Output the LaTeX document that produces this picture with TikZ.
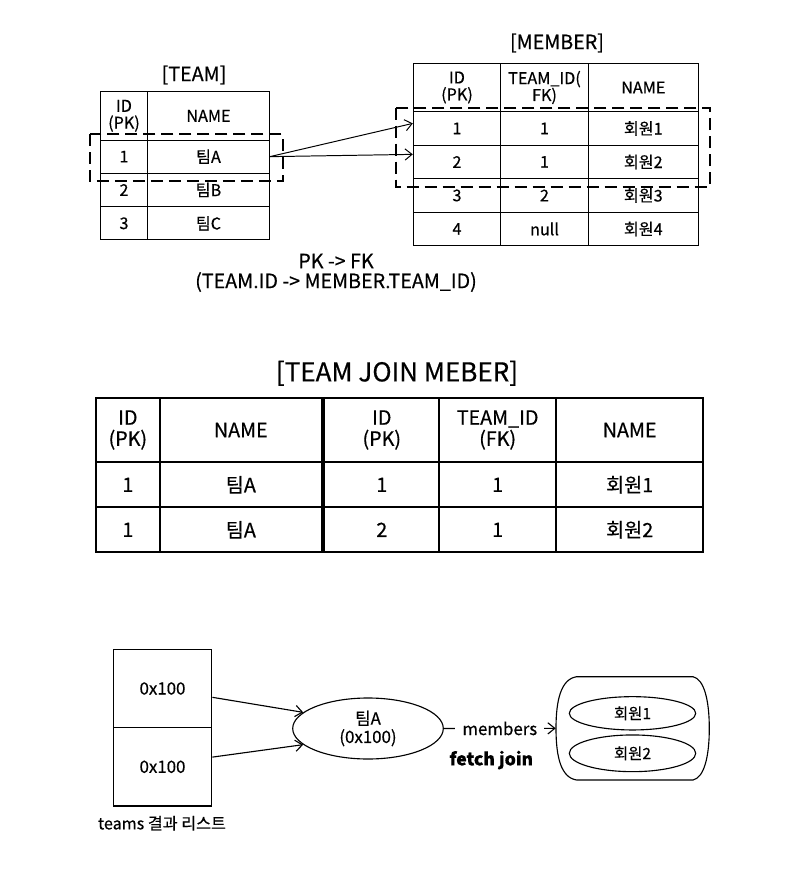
\documentclass[tikz,border=0pt]{standalone}
\usepackage{fontspec}
\setmainfont{Noto Sans CJK KR}[FakeBold=0.5]
\usepackage{tikz}
\usetikzlibrary{arrows,%
                arrows.meta,%
                shapes}
\newcommand{\upx}{0.025cm}

\begin{document}
\begin{tikzpicture}[x=0.025cm,y=-0.025cm,>={Straight Barb[length=5pt,width=8pt]}]
  \tikzstyle{CellStyle}=[draw,rectangle,inner sep=0pt,align=center,line width=0.7pt,font=\fontsize{11.5}{12}\selectfont]
  \tikzstyle{JoinStyle}=[draw,rectangle,inner sep=0pt,align=center,line width=1.4pt,font=\fontsize{14}{15}\selectfont]
  \tikzstyle{DashStyle}=[line width=1.6pt,dash pattern=on 8.5pt off 4.3pt]
  \tikzstyle{TitleStyle}=[font=\fontsize{14}{16}\selectfont]
  \tikzstyle{TCol1}=[minimum width=47.7*\upx]
  \tikzstyle{TCol2}=[minimum width=121.6*\upx]
  \tikzstyle{THead}=[minimum height=48.3*\upx]
  \tikzstyle{TRow}=[minimum height=33.3*\upx]
  \tikzstyle{MCol1}=[minimum width=87.4*\upx]
  \tikzstyle{MCol2}=[minimum width=87.6*\upx]
  \tikzstyle{MCol3}=[minimum width=110*\upx]
  \tikzstyle{MHead}=[minimum height=48.4*\upx]
  \tikzstyle{MRow}=[minimum height=33.5*\upx]
  \useasboundingbox (0,0) rectangle (794,870);
  % [TEAM]
  \node[TitleStyle] (TeamLabel) at (194,75) {[TEAM]};
  \node[CellStyle,TCol1,THead] (TId0) at (124,115.85) {ID\\(PK)};
  \node[CellStyle,TCol2,THead] (TName0) at (208.5,115.85) {NAME};
  \node[CellStyle,TCol1,TRow] (TId1) at (124,156.65) {1};
  \node[CellStyle,TCol2,TRow] (TName1) at (208.5,156.65) {팀A};
  \node[CellStyle,TCol1,TRow] (TId2) at (124,189.95) {2};
  \node[CellStyle,TCol2,TRow] (TName2) at (208.5,189.95) {팀B};
  \node[CellStyle,TCol1,TRow] (TId3) at (124,223.3) {3};
  \node[CellStyle,TCol2,TRow] (TName3) at (208.5,223.3) {팀C};
  % [MEMBER]
  \node[TitleStyle] (MemberLabel) at (557,43) {[MEMBER]};
  \node[CellStyle,MCol1,MHead] (MId0) at (457,87.5) {ID\\(PK)};
  \node[CellStyle,MCol2,MHead] (MTeam0) at (544.5,87.5) {TEAM\_ID(\\FK)};
  \node[CellStyle,MCol3,MHead] (MName0) at (643.3,87.5) {NAME};
  \node[CellStyle,MCol1,MRow] (MId1) at (457,128.45) {1};
  \node[CellStyle,MCol2,MRow] (MTeam1) at (544.5,128.45) {1};
  \node[CellStyle,MCol3,MRow] (MName1) at (643.3,128.45) {회원1};
  \node[CellStyle,MCol1,MRow] (MId2) at (457,161.95) {2};
  \node[CellStyle,MCol2,MRow] (MTeam2) at (544.5,161.95) {1};
  \node[CellStyle,MCol3,MRow] (MName2) at (643.3,161.95) {회원2};
  \node[CellStyle,MCol1,MRow] (MId3) at (457,195.45) {3};
  \node[CellStyle,MCol2,MRow] (MTeam3) at (544.5,195.45) {2};
  \node[CellStyle,MCol3,MRow] (MName3) at (643.3,195.45) {회원3};
  \node[CellStyle,MCol1,MRow] (MId4) at (457,228.95) {4};
  \node[CellStyle,MCol2,MRow] (MTeam4) at (544.5,228.95) {null};
  \node[CellStyle,MCol3,MRow] (MName4) at (643.3,228.95) {회원4};
  % selected rows
  \draw[DashStyle] (90,134) rectangle (282.7,181);
  \draw[DashStyle] (395.7,107.7) rectangle (710,186.7);
  \draw[->,line width=0.7pt] (TName1.east) -- ([yshift=3.6pt]MId1.west);
  \draw[->,line width=0.7pt] (TName1.east) -- ([yshift=5.4pt]MId2.west);
  \node[TitleStyle] (PkFk) at (336,261) {PK -> FK};
  \node[TitleStyle] (PkFkCols) at (336,282) {(TEAM.ID -> MEMBER.TEAM\_ID)};
  % [TEAM JOIN MEBER]
  \tikzstyle{JCol1}=[minimum width=64.3*\upx]
  \tikzstyle{JCol2}=[minimum width=161.7*\upx]
  \tikzstyle{JCol3}=[minimum width=115*\upx]
  \tikzstyle{JCol4}=[minimum width=116.7*\upx]
  \tikzstyle{JCol5}=[minimum width=147.3*\upx]
  \tikzstyle{JHead}=[minimum height=64.6*\upx]
  \tikzstyle{JRow}=[minimum height=45*\upx]
  \node[font=\fontsize{18.5}{20}\selectfont] (JoinLabel) at (397,373.3) {[TEAM JOIN MEBER]};
  \node[JoinStyle,JCol1,JHead] (JTId0) at (127.85,430) {ID\\(PK)};
  \node[JoinStyle,JCol2,JHead] (JTName0) at (240.85,430) {NAME};
  \node[JoinStyle,JCol3,JHead] (JMId0) at (381.8,430) {ID\\(PK)};
  \node[JoinStyle,JCol4,JHead] (JMTeam0) at (497.65,430) {TEAM\_ID\\(FK)};
  \node[JoinStyle,JCol5,JHead] (JMName0) at (629.65,430) {NAME};
  \node[JoinStyle,JCol1,JRow] (JTId1) at (127.85,484.8) {1};
  \node[JoinStyle,JCol2,JRow] (JTName1) at (240.85,484.8) {팀A};
  \node[JoinStyle,JCol3,JRow] (JMId1) at (381.8,484.8) {1};
  \node[JoinStyle,JCol4,JRow] (JMTeam1) at (497.65,484.8) {1};
  \node[JoinStyle,JCol5,JRow] (JMName1) at (629.65,484.8) {회원1};
  \node[JoinStyle,JCol1,JRow] (JTId2) at (127.85,529.8) {1};
  \node[JoinStyle,JCol2,JRow] (JTName2) at (240.85,529.8) {팀A};
  \node[JoinStyle,JCol3,JRow] (JMId2) at (381.8,529.8) {2};
  \node[JoinStyle,JCol4,JRow] (JMTeam2) at (497.65,529.8) {1};
  \node[JoinStyle,JCol5,JRow] (JMName2) at (629.65,529.8) {회원2};
  % result list -> entity
  \tikzstyle{ListStyle}=[draw,rectangle,inner sep=0pt,line width=1pt,minimum width=98.4*\upx,minimum height=78.35*\upx,font=\fontsize{12}{14}\selectfont]
  \tikzstyle{EntityStyle}=[draw,ellipse,inner sep=0pt,align=center,line width=0.8pt,font=\fontsize{12}{13}\selectfont]
  \node[ListStyle] (L1) at (162.5,688.5) {0x100};
  \node[ListStyle] (L2) at (162.5,766.8) {0x100};
  \node[font=\fontsize{11.5}{13}\selectfont] (ListLabel) at (162,823.3) {teams 결과 리스트};
  \node[EntityStyle,minimum width=150.6*\upx,minimum height=61*\upx] (TeamA) at (368,728.5) {팀A\\(0x100)};
  \draw[->,line width=0.8pt] (L1.-10) -- (TeamA.166);
  \draw[->,line width=0.8pt] (L2.11) -- (TeamA.194);
  \node[minimum width=153.3*\upx,minimum height=103.3*\upx] (Bag) at (632.65,728.35) {};
  \draw[line width=0.8pt] (576.7,676.7) -- (693,676.7)
    .. controls (704,679) and (709.3,700) .. (709.3,728.35)
    .. controls (709.3,757) and (704,777.7) .. (693,780) -- (576.7,780)
    .. controls (561,777.7) and (556,757) .. (556,728.35)
    .. controls (556,700) and (561,679) .. (576.7,676.7) -- cycle;
  \node[EntityStyle,font=\fontsize{11}{13}\selectfont,minimum width=126.4*\upx,minimum height=33.3*\upx] (Member1) at (632.5,713.3) {회원1};
  \node[EntityStyle,font=\fontsize{11}{13}\selectfont,minimum width=126.4*\upx,minimum height=36.7*\upx] (Member2) at (632.5,753.3) {회원2};
  \draw[->,line width=0.8pt] (TeamA.east) -- node[fill=white,inner sep=5pt,font=\fontsize{12}{14}\selectfont] (MembersLabel) {members} (Bag.west);
  \node[font=\fontsize{12.5}{15}\selectfont\bfseries] (FetchJoin) at (491.3,760) {fetch join};
\end{tikzpicture}
\end{document}
